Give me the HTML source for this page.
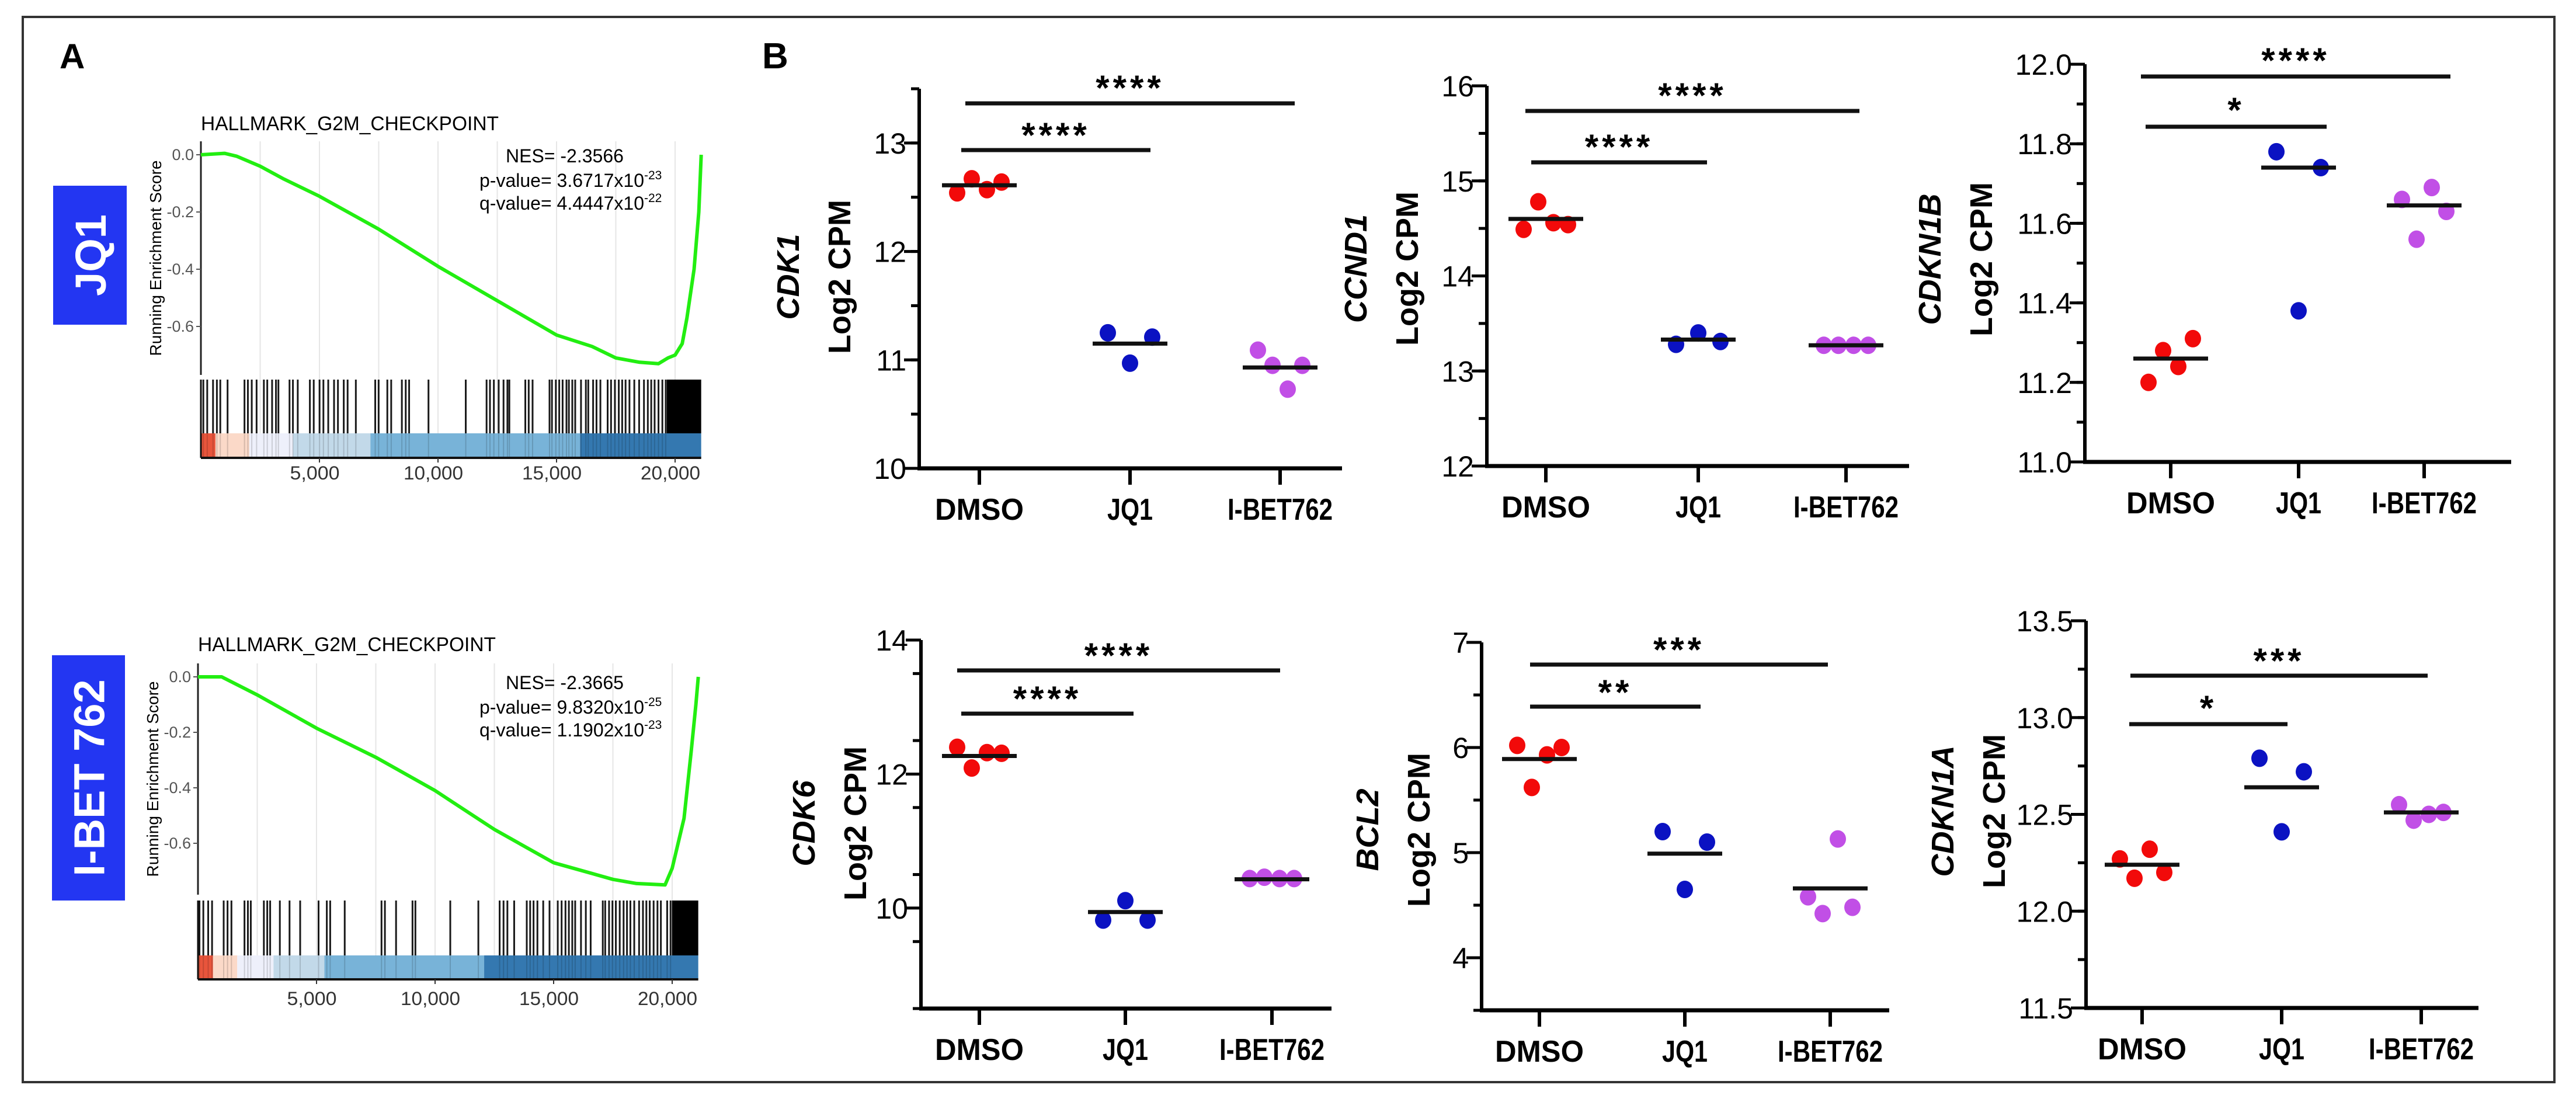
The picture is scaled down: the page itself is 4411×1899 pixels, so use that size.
<!DOCTYPE html>
<html><head><meta charset="utf-8"><style>
html,body{margin:0;padding:0;background:#fff}
svg{display:block}
text{font-family:"Liberation Sans",Arial,sans-serif}
</style></head><body>
<svg id="fig" xmlns="http://www.w3.org/2000/svg" width="4411" height="1899" viewBox="0 0 4411 1899">
<rect x="0" y="0" width="4411" height="1899" fill="#fff"/>
<rect x="39" y="29" width="4335" height="1824" fill="none" stroke="#333" stroke-width="4"/>
<text x="102" y="117" font-size="60" font-weight="bold">A</text>
<text x="1305" y="117" font-size="62" font-weight="bold">B</text>
<g id="gsea"></g>
<g id="dots"></g>
</svg>
<script>
// ---------- GSEA data ----------
const gseaRanksTop = [0,1000,1500,2500,3500,5000,7500,10000,12500,15000,16500,17500,18500,19300,19700,20000,20300,20500,20800,21000,21100];
const gseaEsTop    = [0,0.005,-0.005,-0.04,-0.085,-0.145,-0.26,-0.39,-0.51,-0.63,-0.67,-0.71,-0.725,-0.73,-0.71,-0.70,-0.66,-0.57,-0.40,-0.2,0];
const gseaRanksBot = [0,1000,2500,5000,7500,10000,12500,15000,17500,18500,19700,20000,20500,20800,21000,21100];
const gseaEsBot    = [0,0.0,-0.065,-0.185,-0.29,-0.41,-0.55,-0.67,-0.73,-0.745,-0.75,-0.69,-0.51,-0.27,-0.1,0];
const hitsTop = [103,267,512,675,818,1125,1839,1982,2145,2349,2656,2799,3003,3166,3269,3738,3881,4085,4596,4759,5004,5167,5371,5616,5780,6025,6188,6535,7353,7496,7863,8026,8476,8639,8782,9599,11171,12049,12192,12356,12560,12764,12928,13009,13683,13826,13989,14704,14806,14970,15113,15256,15419,15521,15664,15787,16032,16236,16338,16542,16685,16849,17155,17298,17461,17625,17768,17911,18075,18279,18483,18687,18850,18993,19136,19300,19463,19606];
const denseTop = [19650,21100];
const hitsBot = [63,226,431,594,1084,1247,1411,1962,2105,2228,2779,2922,3044,3453,3862,4310,5086,5434,5576,6189,7741,7884,8354,9048,9170,10641,11825,12723,12887,13050,13336,13867,14010,14153,14316,14561,14827,15174,15337,15500,15643,15786,15909,16154,16358,16562,17073,17175,17338,17481,17624,17788,17951,18094,18237,18400,18604,18768,18911,19054,19217,19380,19523,19789,19932];
const denseBot = [19990,21100];
const cbarStopsTop = [0,614,2043,3881,7149,15990,21100];
const cbarStopsBot = [0,635,1656,3187,5331,12070,21100];
const cbarColors = ["#e8553c","#fbd9c8","#eef0fb","#c2d9e9","#78b3d8","#3478b0"];
const gseaXTicks = [5000,10000,15000,20000];
const gseaXTickLabels = ["5,000","10,000","15,000","20,000"];
const gseaYTicks = [0,-0.2,-0.4,-0.6];
const gseaYTickLabels = ["0.0","-0.2","-0.4","-0.6"];

// ---------- dot plot data ----------
const groups = ["DMSO","JQ1","I-BET762"];
const cdk1Dmso=[12.54,12.67,12.57,12.64], cdk1Jq1=[11.25,10.97,11.21], cdk1Ibet=[11.09,10.95,10.73,10.95];
const cdk1Centers=[12.61,11.15,10.93];
const ccnd1Dmso=[14.49,14.78,14.56,14.54], ccnd1Jq1=[13.28,13.40,13.31], ccnd1Ibet=[13.27,13.27,13.27,13.27];
const ccnd1Centers=[14.6,13.33,13.27];
const cdkn1bDmso=[11.20,11.28,11.24,11.31], cdkn1bJq1=[11.78,11.38,11.74], cdkn1bIbet=[11.66,11.56,11.69,11.63];
const cdkn1bCenters=[11.26,11.74,11.645];
const cdk6Dmso=[12.40,12.09,12.32,12.31], cdk6Jq1=[9.82,10.11,9.82], cdk6Ibet=[10.44,10.46,10.44,10.44];
const cdk6Centers=[12.27,9.94,10.43];
const bcl2Dmso=[6.02,5.62,5.93,6.0], bcl2Jq1=[5.2,4.65,5.1], bcl2Ibet=[4.58,4.42,5.13,4.48];
const bcl2Centers=[5.89,4.99,4.66];
const cdkn1aDmso=[12.27,12.17,12.32,12.2], cdkn1aJq1=[12.79,12.41,12.72], cdkn1aIbet=[12.55,12.47,12.5,12.51];
const cdkn1aCenters=[12.24,12.64,12.51];
const cdk1Ticks=[10,11,12,13], cdk1TickLabels=["10","11","12","13"];
const ccnd1Ticks=[12,13,14,15,16], ccnd1TickLabels=["12","13","14","15","16"];
const cdkn1bTicks=[11,11.2,11.4,11.6,11.8,12], cdkn1bTickLabels=["11.0","11.2","11.4","11.6","11.8","12.0"];
const cdk6Ticks=[10,12,14], cdk6TickLabels=["10","12","14"];
const bcl2Ticks=[4,5,6,7], bcl2TickLabels=["4","5","6","7"];
const cdkn1aTicks=[11.5,12,12.5,13,13.5], cdkn1aTickLabels=["11.5","12.0","12.5","13.0","13.5"];
const sigCdk1=["****","****"], sigCcnd1=["****","****"], sigCdkn1b=["*","****"];
const sigCdk6=["****","****"], sigBcl2=["**","***"], sigCdkn1a=["*","***"];

const NS="http://www.w3.org/2000/svg";
function mk(parent,tag,attrs,txt){const e=document.createElementNS(NS,tag);for(const k in attrs)e.setAttribute(k,attrs[k]);if(txt!==undefined)e.textContent=txt;parent.appendChild(e);return e;}

// ---------- GSEA panels ----------
function gsea(L, ranks, es, hits, dense, stops, nes, pv, pexp, qv, qexp, boxLabel){
  const g=document.getElementById("gsea");
  const xs=n=>L.x0+n*L.k;
  const ys=v=>L.y0-v*L.ky;
  const box=mk(g,"rect",{x:L.bx,y:L.by0,width:L.bw,height:L.by1-L.by0,fill:"#2336f2"});
  
  
  const bt=mk(g,"text",{x:0,y:0,"font-size":74,"font-weight":"bold",fill:"#fff","text-anchor":"middle",transform:`translate(${L.bx+L.bw/2+27},${(L.by0+L.by1)/2}) rotate(-90)`},boxLabel);
  
  
  const t=mk(g,"text",{x:L.x0,y:L.titleY+12,"font-size":34,textLength:510,lengthAdjust:"spacingAndGlyphs"},"HALLMARK_G2M_CHECKPOINT");
  
  
  for(let r=2500;r<=20000;r+=2500){
    const gl=mk(g,"line",{x1:xs(r),x2:xs(r),y1:L.top,y2:L.cb1,stroke:"#e6e6e6","stroke-width":2});
    
    
  }
  const ax=mk(g,"line",{x1:L.x0,x2:L.x0,y1:L.top,y2:L.bot,stroke:"#222","stroke-width":3});
  
  
  gseaYTicks.forEach((v,i)=>{
    const tl=mk(g,"text",{x:L.x0-12,y:ys(v)+9,"font-size":27,fill:"#555","text-anchor":"end"},gseaYTickLabels[i]);
    
    
    mk(g,"line",{x1:L.x0-8,x2:L.x0,y1:ys(v),y2:ys(v),stroke:"#555","stroke-width":2});
  });
  const yl=mk(g,"text",{x:0,y:0,"font-size":28,"text-anchor":"middle",textLength:335,lengthAdjust:"spacingAndGlyphs",transform:`translate(${L.x0-68},${(L.top+L.bot)/2}) rotate(-90)`},"Running Enrichment Score");
  
  
  let d="";ranks.forEach((r,i)=>{d+=(i?"L":"M")+xs(r).toFixed(1)+","+ys(es[i]).toFixed(1);});
  const c=mk(g,"path",{d:d,fill:"none",stroke:"#22ee11","stroke-width":6,"stroke-linejoin":"round"});
  
  
  for(let i=0;i<stops.length-1;i++){
    const s=mk(g,"rect",{x:xs(stops[i]),y:L.cb0,width:xs(stops[i+1])-xs(stops[i]),height:L.cb1-L.cb0,fill:cbarColors[i]});
    
    
  }
  hits.forEach(r=>{
    const h=mk(g,"line",{x1:xs(r),x2:xs(r),y1:L.bc0,y2:L.cb0,stroke:"#000","stroke-width":3,"stroke-opacity":0.9});
    
    
    mk(g,"line",{x1:xs(r),x2:xs(r),y1:L.cb0,y2:L.cb1,stroke:"#000","stroke-width":2,"stroke-opacity":0.15});
  });
  const dn=mk(g,"rect",{x:xs(dense[0]),y:L.bc0,width:xs(dense[1])-xs(dense[0]),height:L.cb0-L.bc0,fill:"#000"});
  
  
  mk(g,"line",{x1:L.x0,x2:xs(21100),y1:L.cb1,y2:L.cb1,stroke:"#111","stroke-width":4});
  mk(g,"line",{x1:L.x0,x2:L.x0,y1:L.bc0,y2:L.cb1,stroke:"#111","stroke-width":3});
  gseaXTicks.forEach((r,i)=>{
    mk(g,"line",{x1:xs(r),x2:xs(r),y1:L.cb1,y2:L.cb1+8,stroke:"#333","stroke-width":2});
    const xl=mk(g,"text",{x:xs(r)-8,y:L.lab+12,"font-size":32,fill:"#333","text-anchor":"middle",textLength:gseaXTickLabels[i].length*17,lengthAdjust:"spacingAndGlyphs"},gseaXTickLabels[i]);
    
    
  });
  const lines=[["NES= -2.3"+nes,null,L.nesY,866],["p-value= "+pv+"x10",pexp,L.nesY+42,821],["q-value= "+qv+"x10",qexp,L.nesY+81,821]];
  lines.forEach(l=>{
    const tx=mk(g,"text",{x:l[3],y:l[2]+11,"font-size":32});
    
    
    mk(tx,"tspan",{},l[0]);
    if(l[1]) mk(tx,"tspan",{dy:-13,"font-size":21},l[1]);
  });
}
gsea({x0:344,k:0.0406,y0:265,ky:490,top:242,bot:642,bc0:650,cb0:742,cb1:784,lab:809,titleY:211,nesY:267,bx:91,bw:126,by0:318,by1:556},
  gseaRanksTop,gseaEsTop,hitsTop,denseTop,cbarStopsTop,"566","3.6717","-23","4.4447","-22","JQ1");
gsea({x0:339,k:0.0406,y0:1159,ky:475,top:1136,bot:1532,bc0:1542,cb0:1636,cb1:1677,lab:1709,titleY:1103,nesY:1169,bx:89,bw:125,by0:1122,by1:1542},
  gseaRanksBot,gseaEsBot,hitsBot,denseBot,cbarStopsBot,"665","9.8320","-25","1.1902","-23","I-BET 762");

// ---------- dot plots ----------
const colors=["#f20a0a","#0b12c2","#c14fe6"];
function dotplot(P){
  const g=mk(document.getElementById("dots"),"g",{});
  
  
  const ys=v=>P.yb-(v-P.min)/(P.max-P.min)*(P.yb-P.yt);
  const ya=mk(g,"line",{x1:P.ax,x2:P.ax,y1:P.yt,y2:P.yb+3,stroke:"#000","stroke-width":6});
  
  
  const xa=mk(g,"line",{x1:P.ax-3,x2:P.xe,y1:P.yb,y2:P.yb,stroke:"#000","stroke-width":7});
  
  
  for(let v=P.min;v<=P.max+1e-9;v+=P.minor){
    mk(g,"line",{x1:P.ax-14,x2:P.ax,y1:ys(v),y2:ys(v),stroke:"#000","stroke-width":5});
  }
  P.ticks.forEach((v,i)=>{
    mk(g,"line",{x1:P.ax-26,x2:P.ax,y1:ys(v),y2:ys(v),stroke:"#000","stroke-width":5});
    const tl=mk(g,"text",{x:P.ax-22,y:ys(v)+18,"font-size":50,"text-anchor":"end"},P.tickLabels[i]);
    
    
  });
  groups.forEach((gn,i)=>{
    const cx=P.cats[i];
    mk(g,"line",{x1:cx,x2:cx,y1:P.yb,y2:P.yb+28,stroke:"#000","stroke-width":6});
    const cl=mk(g,"text",{x:cx,y:P.yb+88,"font-size":52,"font-weight":"bold","text-anchor":"middle",textLength:gn.length*(gn==="I-BET762"?22.5:(gn==="JQ1"?26:38)),lengthAdjust:"spacingAndGlyphs"},gn);
    
    
    const vals=P.series[i];
    const off=vals.length===4?[-38,-13,13,38]:[-38,0,38];
    vals.forEach((v,j)=>{
      const dt=mk(g,"ellipse",{cx:cx+off[j],cy:ys(v),rx:14,ry:15,fill:colors[i]});
      
      
    });
    const ml=mk(g,"line",{x1:cx-64,x2:cx+64,y1:ys(P.centers[i]),y2:ys(P.centers[i]),stroke:"#111","stroke-width":7});
    
    
  });
  P.bars.forEach((b,i)=>{
    const bl=mk(g,"line",{x1:b[0],x2:b[1],y1:b[2],y2:b[2],stroke:"#111","stroke-width":7});
    
    
    const st=mk(g,"text",{x:(b[0]+b[1])/2,y:b[3]+34,"font-size":60,"font-weight":"bold","text-anchor":"middle","letter-spacing":6},P.sig[i]);
    
    
  });
  const tt=mk(g,"text",{x:0,y:0,"font-size":54,"font-weight":"bold","text-anchor":"middle",transform:`translate(${P.tx+19},${P.ty}) rotate(-90)`});
  
  
  mk(tt,"tspan",{"font-style":"italic",x:0,y:0},P.gene);
  mk(tt,"tspan",{x:0,dy:88},"Log2 CPM");
}
dotplot({name:"cdk1",gene:"CDK1",ax:1574,xe:2298,yt:152,yb:802,min:10,max:13.5,minor:0.5,ticks:cdk1Ticks,tickLabels:cdk1TickLabels,cats:[1677,1935,2192],
  series:[cdk1Dmso,cdk1Jq1,cdk1Ibet],centers:cdk1Centers,sig:sigCdk1,bars:[[1646,1970,257,218],[1653,2217,177,137]],tx:1349,ty:474});
dotplot({name:"ccnd1",gene:"CCND1",ax:2546,xe:3269,yt:147,yb:798,min:12,max:16,minor:0.5,ticks:ccnd1Ticks,tickLabels:ccnd1TickLabels,cats:[2647,2908,3161],
  series:[ccnd1Dmso,ccnd1Jq1,ccnd1Ibet],centers:ccnd1Centers,sig:sigCcnd1,bars:[[2622,2923,278,238],[2612,3184,190,150]],tx:2321,ty:460});
dotplot({name:"cdkn1b",gene:"CDKN1B",ax:3570,xe:4300,yt:110,yb:791,min:11,max:12,minor:0.1,ticks:cdkn1bTicks,tickLabels:cdkn1bTickLabels,cats:[3717,3936,4151],
  series:[cdkn1bDmso,cdkn1bJq1,cdkn1bIbet],centers:cdkn1bCenters,sig:sigCdkn1b,bars:[[3674,3984,217,175],[3666,4196,131,90]],tx:3304,ty:444});
dotplot({name:"cdk6",gene:"CDK6",ax:1577,xe:2280,yt:1096,yb:1727,min:8.5,max:14,minor:1,ticks:cdk6Ticks,tickLabels:cdk6TickLabels,cats:[1677,1927,2178],
  series:[cdk6Dmso,cdk6Jq1,cdk6Ibet],centers:cdk6Centers,sig:sigCdk6,bars:[[1646,1941,1222,1183],[1639,2192,1148,1109]],tx:1376,ty:1410});
dotplot({name:"bcl2",gene:"BCL2",ax:2537,xe:3235,yt:1100,yb:1730,min:3.5,max:7,minor:0.5,ticks:bcl2Ticks,tickLabels:bcl2TickLabels,cats:[2636,2885,3134],
  series:[bcl2Dmso,bcl2Jq1,bcl2Ibet],centers:bcl2Centers,sig:sigBcl2,bars:[[2620,2912,1210,1172],[2620,3130,1138,1099]],tx:2341,ty:1421});
dotplot({name:"cdkn1a",gene:"CDKN1A",ax:3572,xe:4244,yt:1063,yb:1726,min:11.5,max:13.5,minor:0.25,ticks:cdkn1aTicks,tickLabels:cdkn1aTickLabels,cats:[3668,3907,4146],
  series:[cdkn1aDmso,cdkn1aJq1,cdkn1aIbet],centers:cdkn1aCenters,sig:sigCdkn1a,bars:[[3646,3917,1240,1199],[3648,4157,1157,1118]],tx:3326,ty:1389});
</script>
</body></html>
